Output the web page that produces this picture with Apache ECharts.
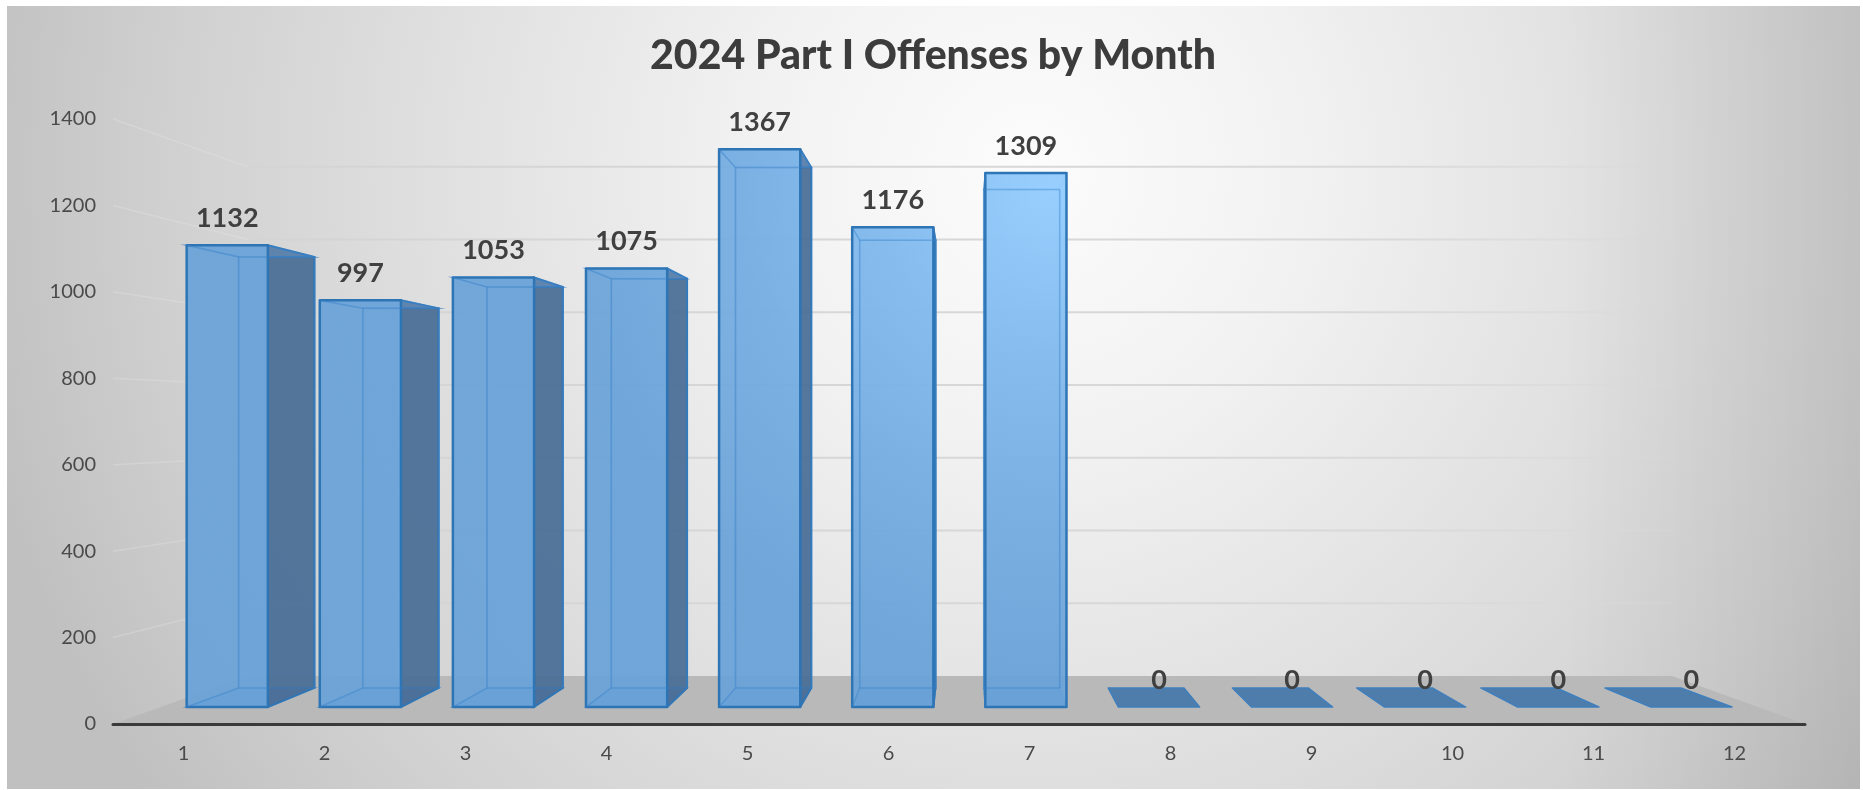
<!DOCTYPE html>
<html>
<head>
<meta charset="utf-8">
<style>html,body{margin:0;padding:0;background:#fff}#c{width:1863px;height:790px}</style>
<script src="https://cdn.jsdelivr.net/npm/echarts@6/dist/echarts.min.js"></script>
</head>
<body>
<div id="c"></div>
<script>
const titleText = '2024 Part I Offenses by Month';
const months = ['1','2','3','4','5','6','7','8','9','10','11','12'];
const offenses = [1132,997,1053,1075,1367,1176,1309,0,0,0,0,0];
const yTicks = [0,200,400,600,800,1000,1200,1400];

// perspective about a vanishing point; depth factors for each plane
const vp = [965, 421];
const KF = 0.944, KB = 0.881, KW = 0.8416;
const proj = (p, k) => [vp[0] + (p[0]-vp[0])*k, vp[1] + (p[1]-vp[1])*k];

const faceFill = {type:'radial', x:1050, y:190, r:480, global:true, colorStops:[
  {offset:0,color:'rgba(150,206,255,0.97)'},
  {offset:0.35,color:'rgba(131,187,238,0.95)'},
  {offset:0.65,color:'rgba(117,173,226,0.93)'},
  {offset:1,color:'rgba(105,162,216,0.92)'}]};
const EDGE='#2e75b6', INNER='rgba(54,125,196,0.7)', SOFT='rgba(60,130,200,0.42)';

function renderFloor(params, api){
  const g=params.coordSys, l=g.x, r=g.x+g.width, b=g.y+g.height;
  return {type:'polygon',silent:true,shape:{points:[[l,b],[r,b],proj([r,b],KW),proj([l,b],KW)]},style:{fill:'#b9b9b9'}};
}
function renderGrid(params, api){
  const g=params.coordSys, l=g.x, r=g.x+g.width;
  const y=api.coord([0,api.value(1)])[1];
  const a=proj([l,y],KW), b=proj([r,y],KW);
  const kids=[];
  if(api.value(1)>0){
    kids.push({type:'line',shape:{x1:l,y1:y,x2:a[0],y2:a[1]},style:{stroke:'rgba(232,232,232,0.3)',lineWidth:1.5}});
    kids.push({type:'line',shape:{x1:a[0],y1:a[1],x2:b[0],y2:b[1]},style:{stroke:{type:'linear',x:a[0],y:0,x2:b[0],y2:0,global:true,colorStops:[
      {offset:0,color:'#d4d4d4'},{offset:0.8,color:'#d9d9d9'},{offset:1,color:'rgba(217,217,217,0.3)'}]},lineWidth:2}});
  }
  return {type:'group',silent:true,children:kids};
}
function renderBar(params, api){
  const v=api.value(1), cx=api.coord([api.value(0),0]);
  const w=api.size([1,0])[0]*0.61;
  const top=api.coord([api.value(0),v])[1], base=cx[1];
  const L=cx[0]-w/2, R=cx[0]+w/2;
  const fbl=proj([L,base],KF), fbr=proj([R,base],KF), ftl=proj([L,top],KF), ftr=proj([R,top],KF);
  const bbl=proj([L,base],KB), bbr=proj([R,base],KB), btl=proj([L,top],KB), btr=proj([R,top],KB);
  const kids=[];
  const labelPos=[(ftl[0]+ftr[0])/2, ftl[1]-27];
  if(v===0){
    kids.push({type:'polygon',shape:{points:[fbl,fbr,bbr,bbl]},style:{fill:'#4f7dab',stroke:'#3f7fbd',lineWidth:1.5,lineJoin:'round'}});
  } else {
    kids.push({type:'polygon',shape:{points:[fbl,fbr,bbr,bbl]},style:{fill:'rgba(92,150,208,0.8)',stroke:INNER,lineWidth:1.5}});
    kids.push({type:'polygon',shape:{points:[bbl,bbr,btr,btl]},style:{fill:'rgba(100,160,216,0.25)',stroke:INNER,lineWidth:2}});
    if(fbr[0]<vp[0]){
      kids.push({type:'polygon',shape:{points:[fbr,bbr,btr,ftr]},style:{fill:'rgba(72,108,148,0.9)',stroke:'rgba(46,117,182,0.9)',lineWidth:2,lineJoin:'round'}});
    }
    kids.push({type:'polygon',shape:{points:[ftl,ftr,btr,btl]},style:{fill:'rgba(120,175,230,0.25)',stroke:INNER,lineWidth:1.5}});
    kids.push({type:'polygon',shape:{points:[fbl,fbr,ftr,ftl]},style:{fill:faceFill,stroke:EDGE,lineWidth:2.5,lineJoin:'round'}});
    kids.push({type:'polyline',shape:{points:[ftl,btl,bbl,fbl]},style:{fill:'none',stroke:SOFT,lineWidth:1.5}});
    kids.push({type:'polyline',shape:{points:[btl,btr]},style:{fill:'none',stroke:SOFT,lineWidth:1.5}});
    kids.push({type:'polyline',shape:{points:[bbl,bbr]},style:{fill:'none',stroke:SOFT,lineWidth:1.5}});
    kids.push({type:'polyline',shape:{points:[btr,bbr]},style:{fill:'none',stroke:SOFT,lineWidth:1.5}});
  }
  kids.push({type:'text',style:{x:labelPos[0],y:labelPos[1],text:String(v),fill:'#404040',
    font:'bold 27px Lato',textAlign:'center',textVerticalAlign:'middle'}});
  return {type:'group',children:kids};
}

const chart = echarts.init(document.getElementById('c'), null, {renderer:'canvas'});
chart.setOption({
  animation:false,
  backgroundColor:'#ffffff',
  title:{text:titleText,left:928,top:30,textAlign:'center',textStyle:{color:'#3c3c3c',fontFamily:'Lato',fontWeight:900,fontSize:41}},
  graphic:[
    {type:'rect',z:-10,silent:true,shape:{x:7,y:6,width:1853,height:783},
     style:{fill:{type:'radial',x:1030,y:170,r:1080,global:true,colorStops:[
       {offset:0,color:'#fcfcfc'},{offset:0.25,color:'#f2f2f2'},{offset:0.55,color:'#e0e0e0'},
       {offset:0.8,color:'#d0d0d0'},{offset:1,color:'#c0c0c0'}]}}},
    {type:'rect',z:-9,silent:true,shape:{x:1560,y:6,width:300,height:783},
     style:{fill:{type:'linear',x:0,y:0,x2:1,y2:0,colorStops:[{offset:0,color:'rgba(0,0,0,0)'},{offset:1,color:'rgba(0,0,0,0.08)'}]}}}
  ],
  grid:{left:113,right:58,top:119,bottom:66,containLabel:false},
  xAxis:{type:'category',z:6,data:months,axisTick:{show:false},
    axisLine:{lineStyle:{color:'#3a3a3a',width:3}},
    axisLabel:{color:'#4a4a4a',fontFamily:'Lato',fontSize:20,margin:20},splitLine:{show:false}},
  yAxis:{type:'value',min:0,max:1400,interval:200,
    axisLine:{show:false},axisTick:{show:false},splitLine:{show:false},
    axisLabel:{color:'#4a4a4a',fontFamily:'Lato',fontSize:20,margin:17,formatter:v=>String(v)}},
  series:[
    {type:'custom',name:'floor',coordinateSystem:'cartesian2d',data:[[0,0]],renderItem:renderFloor,silent:true,clip:false,z:1},
    {type:'custom',name:'grid',coordinateSystem:'cartesian2d',data:yTicks.map(t=>[0,t]),renderItem:renderGrid,silent:true,clip:false,z:2},
    {type:'custom',name:'Offenses',coordinateSystem:'cartesian2d',data:months.map((m,i)=>[i,offenses[i]]),renderItem:renderBar,clip:false,z:3}
  ]
});
</script>
</body>
</html>
